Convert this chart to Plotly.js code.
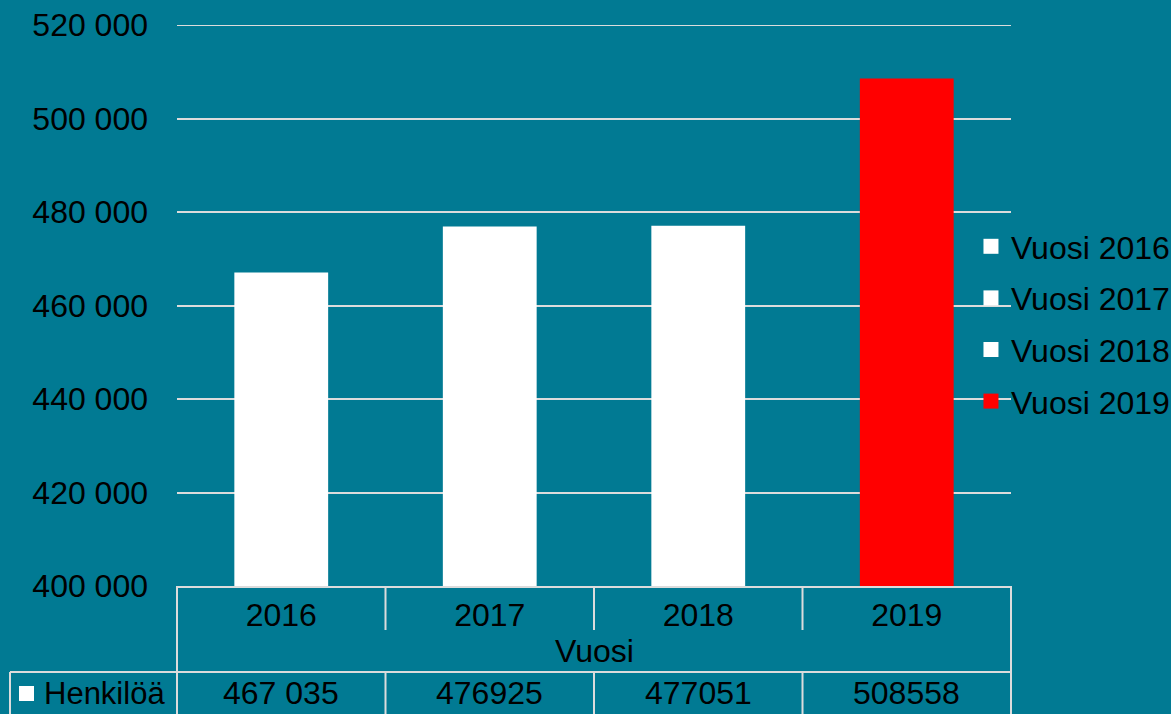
<!DOCTYPE html>
<html><head><meta charset="utf-8">
<script src="https://cdn.plot.ly/plotly-3.0.1.min.js"></script>
<style>html,body{margin:0;padding:0;background:#017A93;}#chart{width:1171px;height:714px;}</style>
</head><body><div id="chart"></div>
<script>
const categories = ["2016", "2017", "2018", "2019"];
const seriesNames = ["Vuosi 2016", "Vuosi 2017", "Vuosi 2018", "Vuosi 2019"];
const values = [467035, 476925, 477051, 508558];
const tableLabels = ["467 035", "476925", "477051", "508558"];
const colors = ["#ffffff", "#ffffff", "#ffffff", "#ff0000"];
const rowLabel = "Henkilöä";
const axisTitle = "Vuosi";
const yTicks = [400000, 420000, 440000, 460000, 480000, 500000, 520000];

const BG = "#017A93";
const LINE = "#dcdcdc";
const FONT = {family: "Liberation Sans, Arial, sans-serif", size: 32, color: "#000000"};

const bars = categories.map((c, i) => ({
  type: "bar", x: [c], y: [values[i]], name: seriesNames[i],
  marker: {color: colors[i], line: {width: 0}},
  showlegend: false, hoverinfo: "skip"
}));
const legendItems = categories.map((c, i) => ({
  type: "scatter", mode: "markers", x: [null], y: [null], name: seriesNames[i],
  marker: {symbol: "square", size: 15, color: colors[i]},
  legendgroup: "g" + i, hoverinfo: "skip"
}));

// table geometry in paper units (plot area: 177..1011 x, 25..586 y)
const py = p => (586 - p) / 561;
const px = p => (p - 177) / 834;
const shapes = [];
const ln = (xref, x0, x1, y0, y1) => shapes.push({type: "line", xref: xref, yref: "paper", x0, x1, y0, y1, line: {color: LINE, width: 2}});
ln("paper", 0, 0, py(586), py(714));
ln("paper", 1, 1, py(586), py(714));
for (let k = 0; k < categories.length - 1; k++) {
  ln("x", k + 0.5, k + 0.5, py(586), py(630));
  ln("x", k + 0.5, k + 0.5, py(672), py(714));
}
ln("paper", px(10), 1, py(672), py(672));
ln("paper", px(10), px(10), py(672), py(714));
// top gridline at the end of the value range
shapes.push({type: "line", xref: "paper", yref: "y", x0: 0, x1: 1, y0: yTicks[yTicks.length - 1], y1: yTicks[yTicks.length - 1], line: {color: LINE, width: 2}});
shapes.push({type: "rect", xref: "paper", yref: "paper", x0: px(19), x1: px(34), y0: py(686), y1: py(701), fillcolor: "#ffffff", line: {width: 0}});

const annotations = categories.map((c, i) => ({
  x: i, xref: "x", y: py(693), yref: "paper", text: tableLabels[i], showarrow: false,
  font: FONT, xanchor: "center", yanchor: "middle"
}));
annotations.push({x: px(594), xref: "paper", y: py(651), yref: "paper", text: axisTitle, showarrow: false, font: FONT, xanchor: "center", yanchor: "middle"});
annotations.push({x: px(167), xref: "paper", y: py(693), yref: "paper", text: rowLabel, showarrow: false, font: Object.assign({}, FONT, {size: 31}), xanchor: "right", yanchor: "middle"});

const layout = {
  width: 1171, height: 714,
  margin: {l: 177, r: 160, t: 25, b: 128, pad: 0, autoexpand: false},
  paper_bgcolor: BG, plot_bgcolor: BG,
  font: FONT,
  separators: ", ",
  barmode: "overlay",
  bargap: 0.55,
  showlegend: true,
  legend: {x: 0.952, xanchor: "left", y: py(219), yanchor: "top", bgcolor: "rgba(0,0,0,0)", font: FONT, traceorder: "grouped", tracegroupgap: 7, itemwidth: 30},
  xaxis: {type: "category", categoryorder: "array", categoryarray: categories, range: [-0.5, 3.5], showgrid: false, zeroline: false, showline: true, linecolor: LINE, linewidth: 2, ticks: "", tickfont: FONT, fixedrange: true},
  yaxis: {range: [400000, 520000], tickvals: yTicks, tickformat: ",d", showgrid: true, gridcolor: LINE, gridwidth: 2, zeroline: false, showline: false, ticks: "", tickfont: FONT, ticklabelstandoff: 28},
  shapes: shapes,
  annotations: annotations
};
Plotly.newPlot("chart", bars.concat(legendItems), layout, {displayModeBar: false, staticPlot: true});
</script></body></html>
